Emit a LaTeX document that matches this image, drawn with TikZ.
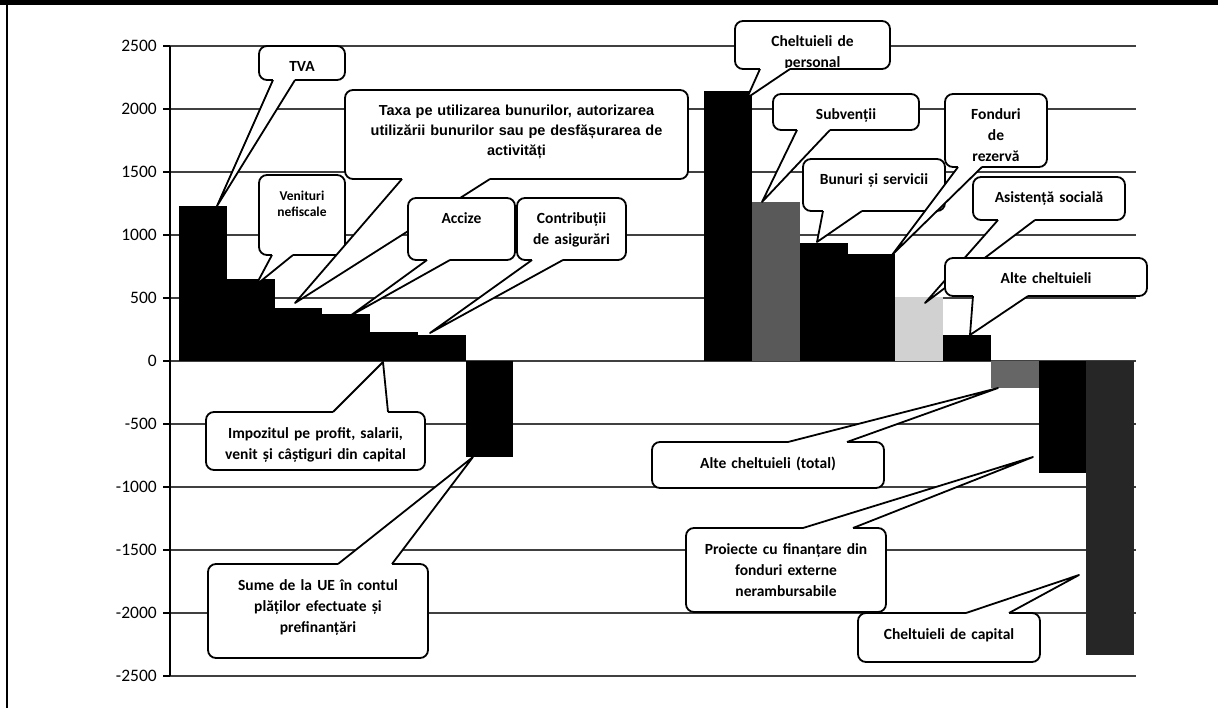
\documentclass[tikz,border=0pt]{standalone}
\usepackage{fontspec}
\setmainfont{Carlito}
\newfontfamily\arialfont{Liberation Sans}
\newcommand{\calfont}{\fontsize{15.5}{21}\selectfont\bfseries}
\newcommand{\venfont}{\fontsize{13.5}{16}\selectfont\bfseries}
\newcommand{\taxafont}{\arialfont\fontsize{14.5}{20}\selectfont\bfseries}
\usetikzlibrary{calc}
\begin{document}
\begin{tikzpicture}[x=1pt, y=-1pt,
		gridline/.style={line width=1.2pt, black!75},
		yaxis/.style={line width=1.4pt},
		ticklabel/.style={inner sep=0pt, anchor=east, font=\fontsize{17.5}{20}\selectfont},
		callbox/.style={draw, line width=1.8pt, rounded corners=8pt, fill=white, inner sep=0pt, outer sep=0pt, align=center, text height=26pt},
		pointer/.style={line width=1.8pt, line join=round}]
		\useasboundingbox (0,0) rectangle (1218,708);
		% Rahmen
		\fill (0,0) rectangle (1218,5);
		\draw [line width=2pt] (7,5) -- (7,708);
		% Gitter und Achse
		\foreach \v in {-2500,-2000,...,2500} {
			\pgfmathsetmacro\yy{361-0.126*\v}
			\draw [gridline] (170,\yy) -- (1136,\yy);
			\draw [yaxis] (163,\yy) -- (170,\yy);
			\node [ticklabel] (tick\v) at (157,\yy) {\v};
		}
		\draw [yaxis] (170,46) -- (170,676);
		% Balken
		\begin{scope}[shift={(179,361)}, x=47.75pt, y=0.126pt]
			\foreach \i/\v/\c in {0/1230/black, 1/651/black, 2/421/black, 3/373/black, 4/230/black, 5/206/black, 6/-762/black,
				11/2143/black, 12/1262/black!65, 13/937/black, 14/849/black, 15/508/black!18, 16/206/black,
				17/-214/black!60, 18/-889/black, 19/-2333/black!85}
				\fill [\c] (\i,0) rectangle ++(1,\v);
		\end{scope}
		% Legenden mit Zeiger
		\foreach \n/\x/\y/\w/\h/\f/\txt/\e/\p/\q/\tx/\ty in {
			tva/259/46/86/34/\calfont/{TVA}/{south west}/14/36/217/206,
			ven/259/175/86/80/\venfont/{Venituri\\nefiscale}/{south west}/13/34/256/285,
			taxa/345/90/343/89/\taxafont/{Taxa pe utilizarea bunurilor, autorizarea\\utilizării bunurilor sau pe desfășurarea de\\activități}/{south west}/57/145/295/303,
			acc/408/198/107/62/\calfont/{Accize}/{south west}/19/42/350/316,
			con/517/198/109/62/\calfont/{Contribuții\\de asigurări}/{south west}/15/46/430/333,
			imp/206/412/219/58/\calfont/{Impozitul pe profit, salarii,\\venit și câștiguri din capital}/{north west}/127/182/383/362,
			sume/208/564/220/94/\calfont/{Sume de la UE în contul\\plăților efectuate și\\prefinanțări}/{north west}/130/184/473/457,
			pers/735/21/155/48/\calfont/{Cheltuieli de\\personal}/{south west}/25/55/747/98,
			sub/773/94/146/36/\calfont/{Subvenții}/{south west}/24/57/762/202,
			bun/803/159/142/52/\calfont/{Bunuri și servicii}/{south west}/20/59/817/242,
			fon/945/94/102/73/\calfont/{Fonduri\\de\\rezervă}/{south west}/13/37/892/255,
			asi/973/177/152/43/\calfont/{Asistență socială}/{south west}/25/62/925/303,
			alt/945/258/202/38/\calfont/{Alte cheltuieli}/{south west}/28/83/970/335,
			alttot/652/442/232/46/\calfont/{Alte cheltuieli (total)}/{north west}/136/195/998/388,
			proi/686/528/200/84/\calfont/{Proiecte cu finanțare din\\fonduri externe\\nerambursabile}/{north west}/117/167/1033/457,
			cap/858/613/182/49/\calfont/{Cheltuieli de capital}/{north west}/108/151/1079/575} {
			\pgfmathsetmacro\dd{\h-26}
			\node [callbox, font=\f, text width=\w pt, text depth=\dd pt, anchor=north west] (\n) at (\x,\y) {\txt};
			\coordinate (\n tip) at (\tx,\ty);
			\fill [white] ([xshift=\p pt]\n.\e) -- (\n tip) -- ([xshift=\q pt]\n.\e) -- cycle;
			\draw [white, line width=2.4pt] ([xshift=\p pt]\n.\e) -- ([xshift=\q pt]\n.\e);
			\draw [pointer] ([xshift=\p pt]\n.\e) -- (\n tip) -- ([xshift=\q pt]\n.\e);
		}
\end{tikzpicture}
\end{document}
